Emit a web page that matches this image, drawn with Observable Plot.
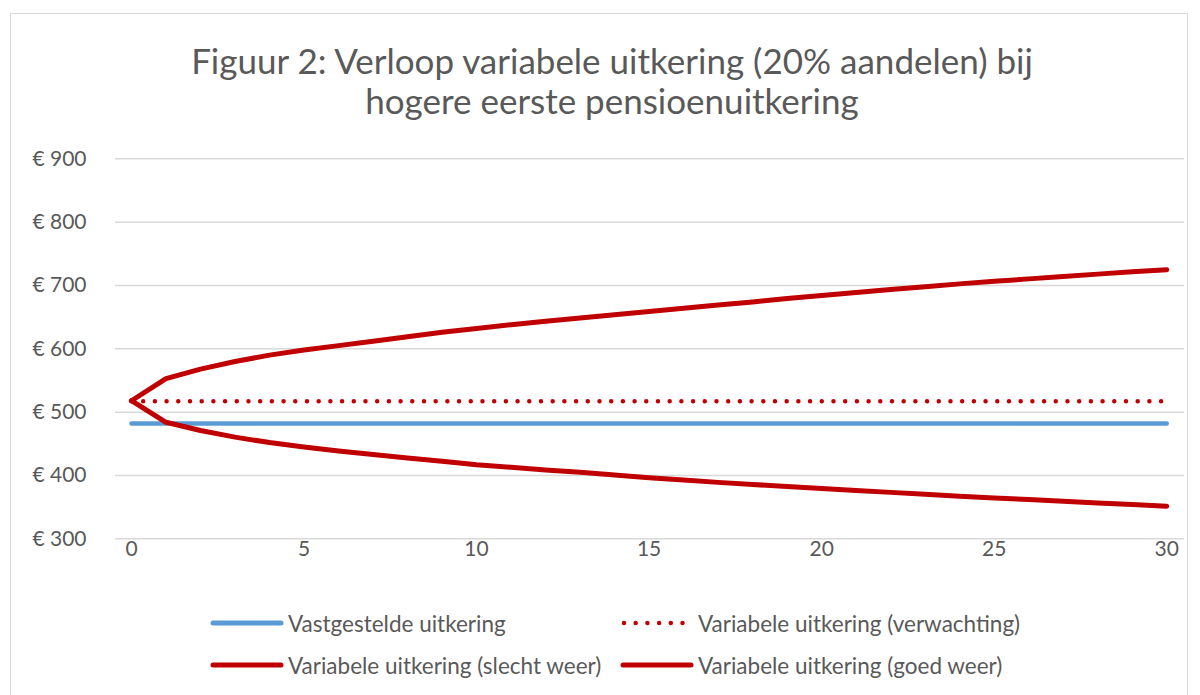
<!DOCTYPE html>
<html>
<head>
<meta charset="utf-8">
<script src="https://cdn.jsdelivr.net/npm/d3@7"></script>
<script src="https://cdn.jsdelivr.net/npm/@observablehq/plot@0.6"></script>
<style>
html,body{margin:0;padding:0;background:#fff;}
body{width:1200px;height:695px;overflow:hidden;position:relative;font-family:Lato,"Noto Sans",sans-serif;color:#595959;}
#frame{position:absolute;left:10px;top:13px;width:1178px;height:700px;border:1.5px solid #d9d9d9;box-sizing:border-box;}
#title{position:absolute;left:0;top:40px;width:1224px;text-align:center;font-size:35px;line-height:40px;color:#595959;}
#chart{position:absolute;left:0;top:130px;}
.leg{position:absolute;height:26px;display:flex;align-items:center;font-size:22.5px;color:#595959;white-space:nowrap;}
.leg svg{margin-right:4px;}
</style>
</head>
<body>
<div id="frame"></div>
<div id="title">Figuur 2: Verloop variabele uitkering (20% aandelen) bij<br>hogere eerste pensioenuitkering</div>
<div id="chart"></div>
<div id="legend"></div>
<script>
// Years (x categories)
const years = [0,1,2,3,4,5,6,7,8,9,10,11,12,13,14,15,16,17,18,19,20,21,22,23,24,25,26,27,28,29,30];
// Series values (euro per month)
const vastgesteld = [482,482,482,482,482,482,482,482,482,482,482,482,482,482,482,482,482,482,482,482,482,482,482,482,482,482,482,482,482,482,482];
const verwachting = [517,517,517,517,517,517,517,517,517,517,517,517,517,517,517,517,517,517,517,517,517,517,517,517,517,517,517,517,517,517,517];
const slechtWeer  = [518,484,471,460.5,452,445,438.8,433,427.6,422.5,417,412.8,408.8,405,400.8,396.5,392.7,389.1,385.8,382.6,379.5,376.4,373.3,370.3,367.3,364.6,361.9,359.2,356.6,354,351.5];
const goedWeer    = [518,553,568,580,590,598,605,612,619,626,632,638,643.5,648.5,653.8,659,664.1,669.1,674,679.3,684.3,689,693.6,698.1,702.5,706.5,710.4,714.2,717.9,721.5,725];
// Tick labels
const xTicks = [0,5,10,15,20,25,30];
const yTicks = [300,400,500,600,700,800,900];
const seriesNames = ["Vastgestelde uitkering","Variabele uitkering (verwachting)","Variabele uitkering (slecht weer)","Variabele uitkering (goed weer)"];

const blue = "#5B9BD5", red = "#C00000";
const toRows = arr => years.map((t,i)=>({t, v: arr[i]}));

const chart = Plot.plot({
  width: 1200,
  height: 440,
  marginTop: 28.3,
  marginBottom: 31.7,
  marginLeft: 115,
  marginRight: 16,
  style: {fontFamily: "Lato, 'Noto Sans', sans-serif", fontSize: "21px", color: "#595959", background: "transparent", overflow: "visible"},
  x: {domain: [-0.463, 30.515], label: null},
  y: {domain: [300, 900], label: null},
  marks: [
    Plot.ruleY(yTicks, {stroke: "#d9d9d9", strokeWidth: 1.5}),
    Plot.axisX(xTicks, {tickSize: 0, tickPadding: 2, tickFormat: d => String(d), label: null, fill: "#595959"}),
    Plot.axisY(yTicks, {tickSize: 0, tickPadding: 29, tickFormat: d => "€ " + d, label: null, fill: "#595959"}),
    Plot.line(toRows(vastgesteld), {x: "t", y: "v", stroke: blue, strokeWidth: 4.5, strokeLinecap: "round", strokeLinejoin: "round"}),
    Plot.line(toRows(verwachting), {x: "t", y: "v", stroke: red, strokeWidth: 4.5, strokeLinecap: "round", strokeDasharray: "0 11.7"}),
    Plot.line(toRows(slechtWeer), {x: "t", y: "v", stroke: red, strokeWidth: 5, strokeLinecap: "round", strokeLinejoin: "round"}),
    Plot.line(toRows(goedWeer), {x: "t", y: "v", stroke: red, strokeWidth: 5, strokeLinecap: "round", strokeLinejoin: "round"})
  ]
});
document.getElementById("chart").appendChild(chart);

// Legend
const legendItems = [
  {name: seriesNames[0], color: blue, dash: null, left: 210, top: 610},
  {name: seriesNames[1], color: red, dash: "0 11.7", left: 620, top: 610},
  {name: seriesNames[2], color: red, dash: null, left: 210, top: 652},
  {name: seriesNames[3], color: red, dash: null, left: 620, top: 652}
];
const legend = document.getElementById("legend");
legendItems.forEach(it => {
  const div = document.createElement("div");
  div.className = "leg";
  div.style.left = it.left + "px";
  div.style.top = it.top + "px";
  const ns = "http://www.w3.org/2000/svg";
  const s = document.createElementNS(ns, "svg");
  s.setAttribute("width", 74); s.setAttribute("height", 26);
  const l = document.createElementNS(ns, "line");
  l.setAttribute("x1", it.dash ? 4 : 3); l.setAttribute("x2", it.dash ? 68 : 71);
  l.setAttribute("y1", 13); l.setAttribute("y2", 13);
  l.setAttribute("stroke", it.color);
  l.setAttribute("stroke-width", it.dash ? 4.5 : 5);
  l.setAttribute("stroke-linecap", "round");
  if (it.dash) l.setAttribute("stroke-dasharray", it.dash);
  s.appendChild(l);
  div.appendChild(s);
  const span = document.createElement("span");
  span.textContent = it.name;
  div.appendChild(span);
  legend.appendChild(div);
});
</script>
</body>
</html>
